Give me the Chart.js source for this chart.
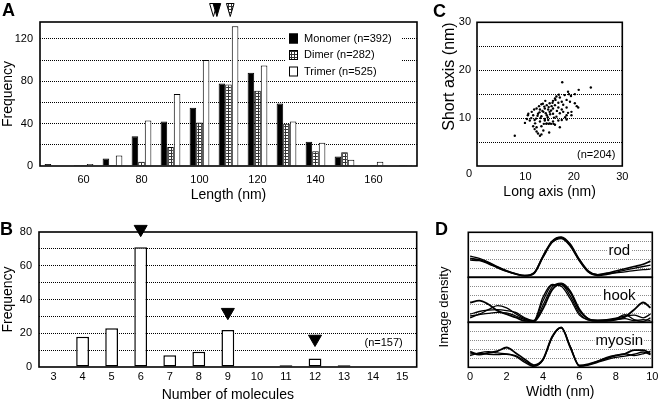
<!DOCTYPE html>
<html><head><meta charset="utf-8">
<script src="https://cdn.jsdelivr.net/npm/chart.js@4.4.0/dist/chart.umd.min.js"></script>
<style>
body{margin:0;background:#fff;}
#wrap{position:relative;width:664px;height:401px;overflow:hidden;font-family:"Liberation Sans",Arial,sans-serif;color:#000;}
canvas{position:absolute;}
.lbl{position:absolute;font-weight:bold;font-size:18px;line-height:1;}
.rot{position:absolute;font-size:13px;white-space:nowrap;transform:translate(-50%,-50%) rotate(-90deg);line-height:1;}
</style></head><body>
<div id="wrap">
<canvas id="cA" width="430" height="205" style="left:0;top:0"></canvas>
<canvas id="cB" width="430" height="196" style="left:0;top:205px"></canvas>
<canvas id="cC" width="234" height="205" style="left:430px;top:0"></canvas>
<canvas id="cD1" width="234" height="50" style="left:430px;top:230px"></canvas>
<canvas id="cD2" width="234" height="50" style="left:430px;top:275px"></canvas>
<canvas id="cD3" width="234" height="81" style="left:430px;top:320px"></canvas>
<div class="lbl" style="left:2px;top:1px">A</div>
<div class="lbl" style="left:0px;top:220px">B</div>
<div class="lbl" style="left:433px;top:2px">C</div>
<div class="lbl" style="left:435px;top:220px">D</div>
<div class="rot" style="left:443px;top:307px">Image density</div>
</div>
<script>
// ---------- Panel A data ----------
const lengthBins   = [50,60,70,80,90,100,110,120,130,140,150,160,170];
const monomerFreq  = [2,1,7,28,42,55,78,88,59,23,9,0,0];
const dimerFreq    = [0,1,1,4,18,41,77,71,40,14,13,1,1];
const trimerFreq   = [0,2,10,43,68,100,132,95,42,22,6,4,1];
const seriesNames  = ['Monomer (n=392)','Dimer (n=282)','Trimer (n=525)'];
const meanMonomer  = 106.0;
const meanDimer    = 110.6;
const meanTrimer   = 104.8;
const freqTicksA   = [0,20,40,60,80,100,120];

// ---------- Panel B data ----------
const moleculeCounts = ['3','4','5','6','7','8','9','10','11','12','13','14','15'];
const moleculeFreq   = [0,18,23,71,7,9,22,0,1,5,1,0,0];
const peakMarks      = [null,null,null,81.7,null,null,32.5,null,null,16.6,null,null,null];
const freqTicksB     = [0,10,20,30,40,50,60,70,80];
const sampleB        = '(n=157)';

// ---------- Panel C data ----------
const longAxis  = [17.6,23.5,21.0,18.8,19.0,19.4,18.1,16.9,16.4,17.1,16.1,20.2,15.7,17.5,18.5,19.2,16.8,15.0,13.3,12.8,14.4,15.4,16.1,20.2,20.6,12.3,13.0,14.0,14.7,15.7,16.8,17.5,18.5,11.3,13.7,15.0,17.8,19.5,20.9,10.6,11.6,12.6,13.3,14.4,15.7,16.4,17.1,18.5,19.5,18.8,9.9,10.9,11.9,13.0,14.4,15.0,15.7,16.8,17.5,18.5,14.7,14.0,11.6,12.3,13.3,16.1,17.1,11.9,12.3,12.6,13.3,13.7,14.9,13.0,7.8,13.8,14.3,14.8,15.3,15.8,13.5,14.2,14.8,15.3,13.9,12.9,14.6,15.1,13.1,12.5,11.8,12.2,16.5,16.2,15.6,14.1,13.6,17.8,18.2,11.2,10.3,12.0,14.0,15.9,10.5];
const shortAxis = [17.5,16.4,15.9,15.5,15.0,14.6,14.8,14.9,14.5,14.3,14.1,15.0,13.6,13.4,13.8,13.4,13.2,13.1,12.9,12.5,12.7,12.5,12.7,13.1,12.5,12.0,11.8,12.0,11.8,12.0,12.2,11.8,12.2,11.3,11.3,11.3,11.3,11.3,12.2,10.9,10.6,10.9,10.4,10.6,10.9,10.3,11.0,10.6,10.6,11.1,9.0,9.5,9.6,9.3,8.9,8.9,9.3,9.5,9.6,9.7,9.6,9.5,8.3,8.1,8.3,8.6,8.1,7.7,7.2,6.8,6.6,7.4,7.0,6.3,6.3,8.8,8.8,8.8,8.8,8.8,11.5,11.0,12.3,11.6,12.4,11.2,10.2,10.8,10.0,10.5,11.8,9.9,11.5,13.8,13.2,13.6,13.0,12.8,10.2,10.0,9.8,8.9,9.8,10.1,10.6];
const axisTicksC = [0,5,10,15,20,25,30];
const sampleC    = '(n=204)';

// ---------- Panel D data ----------
const widthNm = [0,0.5,1,1.5,2,2.5,3,3.5,4,4.5,5,5.5,6,6.5,7,7.5,8,8.5,9,9.5,9.9];
const rod1 = [2.1,1.95,1.6,1.1,0.7,0.38,0.18,0.45,2.3,3.95,4.4,3.55,1.9,0.6,0.28,0.45,0.7,0.95,1.2,1.45,1.8];
const rod2 = [2.35,2.1,1.7,1.2,0.75,0.4,0.2,0.5,2.4,4.05,4.5,3.7,2.0,0.7,0.3,0.35,0.55,0.8,1.0,1.2,1.35];
const rod3 = [1.9,1.85,1.5,1.05,0.65,0.35,0.15,0.4,2.2,3.85,4.3,3.45,1.8,0.55,0.2,0.3,0.5,0.6,0.75,0.85,0.9];
const hook1 = [2.2,2.4,2.0,1.3,0.9,0.55,0.15,0.1,1.5,3.6,4.25,3.3,1.3,0.35,0.15,0.15,0.3,0.6,1.4,2.2,1.6];
const hook2 = [0.5,0.9,1.4,1.85,1.6,0.95,0.4,0.1,1.9,3.9,4.35,3.5,1.5,0.4,0.2,0.2,0.4,0.85,0.3,0.1,0.5];
const hook3 = [0.9,1.2,1.35,1.4,1.3,1.1,0.5,0.15,2.4,4.1,4.2,2.9,1.0,0.3,0.25,0.3,0.45,0.7,0.8,0.5,0.9];
const hook4 = [0.7,0.85,1.0,1.1,1.05,0.7,0.3,0.2,2.8,4.2,4.0,2.6,0.8,0.25,0.15,0.2,0.3,0.4,0.2,0.3,0.2];
const myo1 = [1.75,1.4,1.6,1.8,2.2,1.6,0.9,0.25,0.9,3.4,4.4,2.2,0.2,0.35,0.65,1.0,1.3,1.5,1.9,1.9,1.5];
const myo2 = [1.3,1.6,1.75,1.6,1.5,1.3,0.7,0.15,0.8,3.3,4.45,2.3,0.15,0.3,0.7,1.1,1.35,1.5,1.3,1.5,1.8];
const myo3 = [1.5,1.55,1.45,1.4,1.45,1.2,0.55,0.1,0.85,3.35,4.4,2.25,0.1,0.25,0.55,0.85,1.1,1.25,1.45,1.7,1.4];
const widthTicks = [0,2,4,6,8,10];
const densityTicks = [0,1,2,3,4,5];
const profileNames = ['rod','hook','myosin'];

// ---------- common ----------
Chart.defaults.font.family = "'Liberation Sans', Arial, sans-serif";
Chart.defaults.color = '#000';
const FONT = "'Liberation Sans', Arial, sans-serif";

function makeHatch(){
  const c = document.createElement('canvas'); c.width = 3; c.height = 3;
  const g = c.getContext('2d');
  g.fillStyle = '#fff'; g.fillRect(0,0,3,3);
  g.fillStyle = '#333'; g.fillRect(0,0,3,1); g.fillRect(0,0,1,3);
  return c.getContext('2d').createPattern(c,'repeat');
}
const hatch = makeHatch();

const framePlugin = { id:'frame', afterDraw(ch){
  const a = ch.chartArea, c = ch.ctx;
  c.save(); c.strokeStyle = '#000'; c.lineWidth = 1.6;
  c.strokeRect(a.left, a.top, a.right - a.left, a.bottom - a.top);
  c.restore();
}};
const fixW = w => function(s){ s.width = w; };
const fixH = h => function(s){ s.height = h; };
const ticksFrom = arr => function(s){ s.ticks = arr.map(v => ({value:v})); };
const dotted = {display:false, dash:[1,1]};
const baseOpts = {responsive:false, animation:false, events:[], plugins:{legend:{display:false}, tooltip:{enabled:false}}};

// ---------- Chart A ----------
const legendA = { id:'legendA', afterDatasetsDraw(ch){
  const c = ch.ctx;
  c.save();
  c.fillStyle = '#fff'; c.fillRect(286, 28, 115, 52);
  const fills = ['#000', hatch, '#fff'];
  const rows = [38.5, 55, 71.5];
  c.font = '11px ' + FONT; c.textBaseline = 'middle'; c.textAlign = 'left';
  rows.forEach((y,i) => {
    c.fillStyle = fills[i]; c.fillRect(289, y-5, 9, 10);
    c.strokeStyle = '#000'; c.lineWidth = 1; c.strokeRect(289.5, y-4.5, 8, 9);
    c.fillStyle = '#000'; c.fillText(seriesNames[i], 304, y);
  });
  c.restore();
}};
const markersA = { id:'markersA', afterDraw(ch){
  const c = ch.ctx, xs = ch.scales.x;
  const idx = v => (v - lengthBins[0]) / (lengthBins[1] - lengthBins[0]);
  function tri(v, fill){
    const x = xs.getPixelForValue(idx(v));
    c.beginPath(); c.moveTo(x-3.8, 3.5); c.lineTo(x+3.8, 3.5); c.lineTo(x, 16.5); c.closePath();
    c.fillStyle = fill; c.fill(); c.lineWidth = 1; c.strokeStyle = '#000'; c.stroke();
  }
  c.save();
  tri(meanTrimer, '#fff'); tri(meanMonomer, '#000'); tri(meanDimer, hatch);
  c.restore();
}};
new Chart(document.getElementById('cA'), {
  type:'bar',
  data:{ labels: lengthBins.map(String), datasets:[
    {data: monomerFreq, backgroundColor:'#000', borderColor:'#000', borderWidth:1, categoryPercentage:0.68, barPercentage:1},
    {data: dimerFreq, backgroundColor: hatch, borderColor:'#000', borderWidth:1, categoryPercentage:0.68, barPercentage:1},
    {data: trimerFreq, backgroundColor:'#fff', borderColor:'#000', borderWidth:1, categoryPercentage:0.68, barPercentage:1}
  ]},
  options: Object.assign({}, baseOpts, {
    layout:{padding:{left:0, top:22, right:13, bottom:0}},
    scales:{
      x:{ grid:{display:false, drawTicks:false}, border:{display:false},
          ticks:{padding:7, font:{size:11}, autoSkip:false, maxRotation:0,
                 callback(v){ const l = this.getLabelForValue(v); return (+l % 20 === 0) ? l : ''; }},
          title:{display:true, text:'Length (nm)', font:{size:14}, padding:{top:0, bottom:1}},
          afterFit: fixH(39) },
      y:{ min:0, max:136, afterBuildTicks: ticksFrom(freqTicksA),
          grid:{drawTicks:false, lineWidth:1, color: c => (c.tick && c.tick.value > 0) ? '#000' : 'rgba(0,0,0,0)'},
          border: dotted,
          ticks:{padding:7, font:{size:11}, callback: v => (v % 40 === 0 ? v : '')},
          title:{display:true, text:'Frequency', font:{size:14}, padding:{top:0, bottom:0}},
          afterFit: fixW(40) }
    }
  }),
  plugins:[legendA, markersA, framePlugin]
});

// ---------- Chart B ----------
const textB = { id:'textB', afterDraw(ch){
  const c = ch.ctx, a = ch.chartArea;
  c.save(); c.font = '11px ' + FONT; c.textAlign = 'right'; c.textBaseline = 'middle'; c.fillStyle = '#000';
  c.fillText(sampleB, a.right - 14, a.bottom - 24);
  c.restore();
}};
new Chart(document.getElementById('cB'), {
  type:'bar',
  data:{ labels: moleculeCounts, datasets:[
    {type:'line', data: peakMarks, showLine:false, pointStyle:'triangle', rotation:180, pointRadius:7.5,
     backgroundColor:'#000', borderColor:'#000', borderWidth:1, clip:false, order:0},
    {data: moleculeFreq, backgroundColor:'#fff', borderColor:'#000', borderWidth:1.5, borderSkipped:false,
     categoryPercentage:1, barPercentage:0.44, order:1}
  ]},
  options: Object.assign({}, baseOpts, {
    layout:{padding:{left:0, top:27, right:13.3, bottom:0}},
    scales:{
      x:{ grid:{display:false, drawTicks:false}, border:{display:false},
          ticks:{padding:3, font:{size:11}, autoSkip:false, maxRotation:0},
          title:{display:true, text:'Number of molecules', font:{size:14}, padding:{top:0, bottom:-3}},
          afterFit: fixH(34) },
      y:{ min:0, max:80, afterBuildTicks: ticksFrom(freqTicksB),
          grid:{drawTicks:false, lineWidth:1, color: c => (c.tick && c.tick.value > 0 && c.tick.value < 80) ? '#000' : 'rgba(0,0,0,0)'},
          border: dotted,
          ticks:{padding:7, font:{size:11}, callback: v => (v % 20 === 0 ? v : '')},
          title:{display:true, text:'Frequency', font:{size:14}, padding:{top:0, bottom:0}},
          afterFit: fixW(39) }
    }
  }),
  plugins:[textB, framePlugin]
});

// ---------- Chart C ----------
const textC = { id:'textC', afterDraw(ch){
  const c = ch.ctx, a = ch.chartArea;
  c.save(); c.font = '11px ' + FONT; c.fillStyle = '#000'; c.textBaseline = 'middle';
  c.textAlign = 'center'; c.fillText('0', a.left - 8, a.bottom + 8);
  c.textAlign = 'right'; c.fillText(sampleC, a.right - 7, a.bottom - 11);
  c.restore();
}};
new Chart(document.getElementById('cC'), {
  type:'scatter',
  data:{ datasets:[{ data: longAxis.map((x,i) => ({x, y: shortAxis[i]})), backgroundColor:'#000', borderWidth:0, pointRadius:1.2 }]},
  options: Object.assign({}, baseOpts, {
    layout:{padding:{left:0, top:22.3, right:41.7, bottom:0}},
    scales:{
      x:{ type:'linear', min:0, max:30, afterBuildTicks: ticksFrom([0,10,20,30]),
          grid:{display:false, drawTicks:false}, border:{display:false},
          ticks:{padding:4, font:{size:11}, maxRotation:0, callback: v => (v === 0 ? '' : v)},
          title:{display:true, text:'Long axis (nm)', font:{size:14}, padding:{top:0, bottom:4}},
          afterFit: fixH(39) },
      y:{ min:0, max:30, afterBuildTicks: ticksFrom(axisTicksC),
          grid:{drawTicks:false, lineWidth:1, color: c => (c.tick && c.tick.value > 0 && c.tick.value < 30) ? '#000' : 'rgba(0,0,0,0)'},
          border: dotted,
          ticks:{padding:6, font:{size:11}, callback: v => (v % 10 === 0 && v !== 0 ? v : '')},
          title:{display:true, text:'Short axis (nm)', align:'end', font:{size:16}, padding:{top:9.6, bottom:0}},
          afterFit: fixW(47) }
    }
  }),
  plugins:[textC, framePlugin]
});

// ---------- Chart D ----------
function makeD(id, curves, name, isBottom){
  const nameP = { id:'name'+id, afterDraw(ch){
    const c = ch.ctx, a = ch.chartArea;
    c.save(); c.font = '15px ' + FONT; c.textAlign = 'center'; c.textBaseline = 'middle';
    const w = c.measureText(name).width;
    const cx = a.right - 33, cy = a.top + 19;
    c.fillStyle = '#fff'; c.fillRect(cx - w/2 - 1, cy - 7, w + 2, 13);
    c.fillStyle = '#000'; c.fillText(name, cx, cy);
    c.restore();
  }};
  new Chart(document.getElementById(id), {
    type:'line',
    data:{ datasets: curves.map((ys, i) => ({
      data: widthNm.map((x, j) => ({x, y: ys[j]})),
      borderColor:'#000', borderWidth: i === 0 ? 1.8 : 1.3, pointRadius:0, cubicInterpolationMode:'monotone', fill:false
    }))},
    options: Object.assign({}, baseOpts, {
      layout:{padding:{left:38.3, right:11.7, top:2.3, bottom: isBottom ? 0 : 2.7}},
      scales:{
        x:{ type:'linear', min:-0.1, max:10, display: isBottom, afterBuildTicks: ticksFrom(widthTicks),
            grid:{display:false, drawTicks:false}, border:{display:false},
            ticks:{padding:2.8, font:{size:11}, maxRotation:0, autoSkip:false},
            title:{display:true, text:'Width (nm)', font:{size:14}, padding:{top:0, bottom:0}},
            afterFit(s){ s.height = isBottom ? 33.7 : 0; } },
        y:{ min:0, max:5, afterBuildTicks: ticksFrom(densityTicks),
            grid:{drawTicks:false, lineWidth:1, color: c => (c.tick && c.tick.value > 0 && c.tick.value < 5) ? '#8a8a8a' : 'rgba(0,0,0,0)'},
            border: dotted,
            ticks:{display:false},
            afterFit: fixW(0) }
      }
    }),
    plugins:[nameP, framePlugin]
  });
}
makeD('cD1', [rod1, rod2, rod3], profileNames[0], false);
makeD('cD2', [hook1, hook2, hook3, hook4], profileNames[1], false);
makeD('cD3', [myo1, myo2, myo3], profileNames[2], true);
</script>
</body></html>
